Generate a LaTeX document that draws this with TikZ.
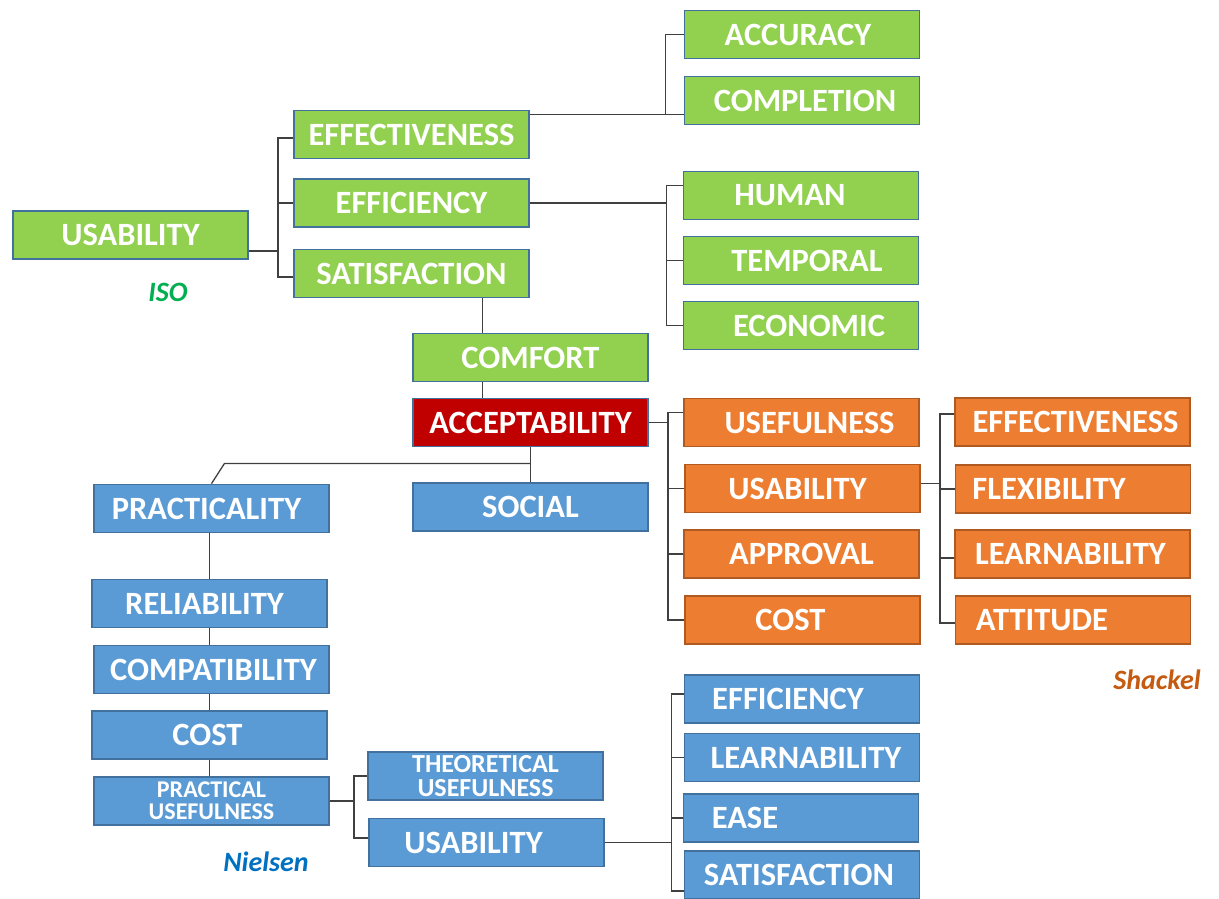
\documentclass[tikz,border=0pt]{standalone}
\usepackage{fontspec}
\setmainfont{Carlito}
\definecolor{isogreen}{HTML}{92D050}
\definecolor{shkorange}{HTML}{ED7D31}
\definecolor{nieblue}{HTML}{5B9BD5}
\definecolor{acptred}{HTML}{C00000}
\definecolor{boxline}{HTML}{41719C}
\definecolor{shkline}{HTML}{AE5A21}
\definecolor{linkgray}{HTML}{404040}
\definecolor{isotag}{HTML}{00B050}
\definecolor{nietag}{HTML}{0070C0}
\definecolor{shktag}{HTML}{C55A11}
% move a box text sideways by #1 (in pt, + is right)
\newcommand{\txtshift}[2]{\ifdim#1pt<0pt \mbox{#2}\hspace*{\dimexpr-2\dimexpr#1pt\relax\relax}\else\hspace*{\dimexpr2\dimexpr#1pt\relax\relax}\mbox{#2}\fi}
\begin{document}
\begin{tikzpicture}[x=1pt, y=-1pt,
    box/.style={rectangle, draw=boxline, line width=1.8pt, minimum width=235pt, minimum height=48pt,
        inner sep=0pt, text=white, font=\fontsize{32.5}{35}\selectfont\bfseries},
    iso/.style={box, fill=isogreen},
    shk/.style={box, fill=shkorange, draw=shkline},
    nie/.style={box, fill=nieblue},
    link/.style={draw=linkgray, line width=1.3pt},
    tag/.style={font=\fontsize{28}{30}\selectfont\bfseries\itshape}
]
\useasboundingbox (0,0) rectangle (1219,898);

% ISO
\node[iso] (usab) at (130.5,235) {USABILITY};
\foreach \n/\t/\y in {eff/EFFECTIVENESS/134.5, efi/EFFICIENCY/203, sat/SATISFACTION/273.5} {
    \node[iso] (\n) at (411.5,\y) {\t};
}
\foreach \n/\t/\y/\d in {acc/ACCURACY/34.5/-4, com/COMPLETION/100.5/3} {
    \node[iso] (\n) at (802,\y) {\txtshift{\d}{\t}};
}
\foreach \n/\t/\y/\d in {hum/HUMAN/195.5/-11, tem/TEMPORAL/260.5/6, eco/ECONOMIC/325.5/8} {
    \node[iso] (\n) at (801,\y) {\txtshift{\d}{\t}};
}
\node[iso] (cmf) at (530.5,357.5) {COMFORT};
\node[tag, text=isotag] (isolbl) at (168,292) {ISO};

\draw[link] ([yshift=-16pt]usab.east) -- ++(29,0);
\draw[link] ([yshift=-3.5pt]eff.west) -- ++(-15,0) |- ([yshift=-3.5pt]sat.west);
\draw[link] (efi.west) -- ++(-15,0);
\draw[link] ([yshift=20pt]eff.east) -- ([yshift=20pt]eff.east -| com.west);
\draw[link] (acc.west) -- ++(-18,0) -- ++(0,80);
\draw[link] (efi.east) -- ++(137,0);
\draw[link] ([yshift=10pt]hum.west) -- ++(-16,0) |- (eco.west);
\draw[link] (tem.west) -- ++(-16,0);
\draw[link] ([xshift=-48pt]cmf.north) -- ([xshift=-48pt]cmf.north |- sat.south);

% acceptability
\node[box, fill=acptred] (acpt) at (530.5,422.5) {ACCEPTABILITY};
\draw[link] ([xshift=-48pt]acpt.north) -- ([xshift=-48pt]cmf.south);

% Shackel
\foreach \n/\t/\y/\x/\d in {use/USEFULNESS/422.5/801.5/8, usa/USABILITY/488.5/802.5/-5, app/APPROVAL/554/801.5/0, cst2/COST/620/802.5/-12} {
    \node[shk] (\n) at (\x,\y) {\txtshift{\d}{\t}};
}
\foreach \n/\t/\y/\x/\d in {ef2/EFFECTIVENESS/422/1072.5/3, fle/FLEXIBILITY/489/1073/-24, lea/LEARNABILITY/554/1072.5/-2, att/ATTITUDE/620/1073/-31} {
    \node[shk] (\n) at (\x,\y) {\txtshift{\d}{\t}};
}
\node[tag, text=shktag] (shklbl) at (1157,680) {Shackel};

\draw[link] (acpt.east) -- ++(19,0);
\draw[link] ([yshift=10pt]use.west) -- ++(-15,0) |- (cst2.west);
\draw[link] (usa.west) -- ++(-16,0);
\draw[link] (app.west) -- ++(-15,0);
\draw[link] ([yshift=5pt]usa.east) -- ++(19,0);
\draw[link] ([yshift=8pt]ef2.west) -- ++(-14,0) |- ([yshift=-3pt]att.west);
\draw[link] (fle.west) -- ++(-15,0);
\draw[link] ([yshift=-4pt]lea.west) -- ++(-14,0);

% Nielsen
\node[nie] (soc) at (530.5,507) {SOCIAL};
\foreach \n/\t/\y/\x/\d in {prac/PRACTICALITY/508.5/211.5/-5, rel/RELIABILITY/603.5/209.5/-5, cpt/COMPATIBILITY/669.5/211.5/2, cst/COST/735/209.5/-2} {
    \node[nie] (\n) at (\x,\y) {\txtshift{\d}{\t}};
}
\node[nie, align=center, font=\fontsize{24}{22}\selectfont\bfseries] (pu) at (211.5,801) {PRACTICAL\\USEFULNESS};
\node[nie, align=center, font=\fontsize{26}{24}\selectfont\bfseries] (theo) at (485.5,776) {THEORETICAL\\USEFULNESS};
\node[nie] (usb) at (486.5,842.5) {\txtshift{-13}{USABILITY}};
\foreach \n/\t/\y/\x/\d in {ef3/EFFICIENCY/699/802/-14, le3/LEARNABILITY/757.5/802/4, eas/EASE/818/801/-56, sa3/SATISFACTION/875/802/-3} {
    \node[nie] (\n) at (\x,\y) {\txtshift{\d}{\t}};
}
\node[tag, text=nietag] (nielbl) at (266,862) {Nielsen};

\draw[link] (acpt.south) -- (soc.north);
\draw[link] (acpt.south) ++(0,16) -- ++(-306,0) -- (prac.north);
\foreach \a/\b in {prac/rel, rel/cpt, cpt/cst, cst/pu} {
    \draw[link] (\a.south -| rel.south) -- (\b.north -| rel.south);
}
\draw[link] (pu.east) -- ++(24,0);
\draw[link] (theo.west) -- ++(-13,0) |- ([yshift=4.5pt]usb.west);
\draw[link] (usb.east) -- ++(66,0);
\draw[link] ([yshift=5pt]ef3.west) -- ++(-12,0) |- ([yshift=-16pt]sa3.west);
\draw[link] (le3.west) -- ++(-12,0);
\draw[link] (eas.west) -- ++(-11,0);
\end{tikzpicture}
\end{document}
